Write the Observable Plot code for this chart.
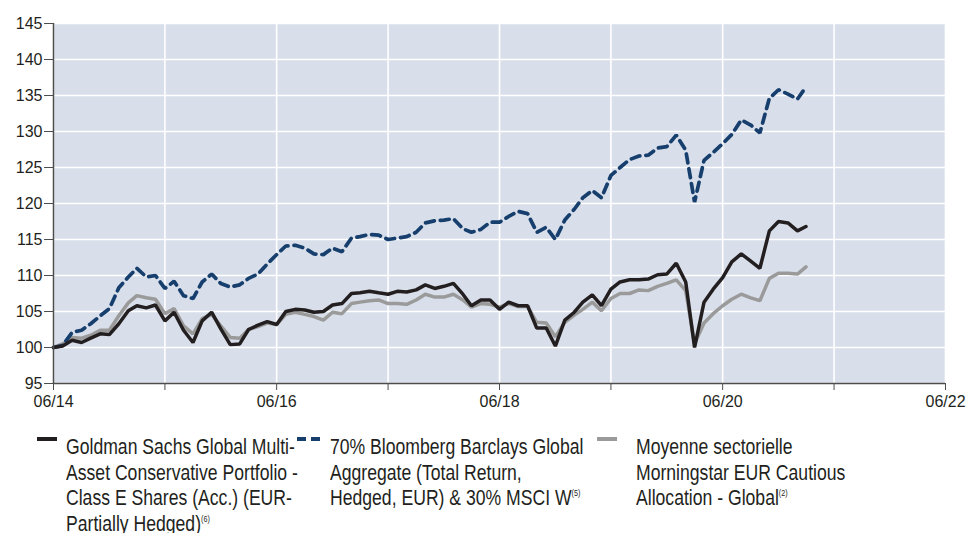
<!DOCTYPE html>
<html>
<head>
<meta charset="utf-8">
<script src="https://cdn.jsdelivr.net/npm/d3@7"></script>
<script src="https://cdn.jsdelivr.net/npm/@observablehq/plot@0.6"></script>
<style>
  html, body { margin: 0; padding: 0; background: #ffffff; width: 967px; height: 533px; overflow: hidden; }
  #wrap { position: relative; width: 967px; height: 533px; font-family: 'Liberation Sans', Arial, sans-serif; color: #231f20; }
  .legend { position: absolute; top: 434px; left: 0; width: 967px; }
  .item { position: absolute; top: 0; font-size: 22px; line-height: 25.5px; white-space: nowrap;
          transform: scaleX(0.8); transform-origin: 0 0; }
  .sw { position: absolute; top: 3px; height: 4px; }
  sup { font-size: 9px; vertical-align: 9px; line-height: 0; }
</style>
</head>
<body>
<div id="wrap">
  <div id="chart"></div>
  <div class="legend" id="legend"></div>
</div>
<script>
// ---- Data (monthly, 06/2014 .. 03/2021) ----
const firstMonth = new Date(Date.UTC(2014, 5, 1));
const endMonthExclusive = new Date(Date.UTC(2021, 3, 1));

const fundValues = [
  100.0, 100.2, 101.0, 100.7, 101.3, 101.9, 101.8, 103.3, 105.1, 105.8,
  105.5, 105.9, 103.7, 104.9, 102.4, 100.7, 103.7, 104.9, 102.6, 100.4,
  100.5, 102.5, 103.1, 103.6, 103.2, 105.0, 105.3, 105.2, 104.9, 105.0,
  105.9, 106.1, 107.5, 107.6, 107.8, 107.6, 107.4, 107.8, 107.7, 108.0,
  108.7, 108.2, 108.5, 108.9, 107.4, 105.8, 106.6, 106.6, 105.3, 106.3,
  105.8, 105.8, 102.7, 102.7, 100.2, 103.8, 104.9, 106.3, 107.3, 105.8,
  108.1, 109.1, 109.4, 109.4, 109.5, 110.1, 110.2, 111.7, 109.1, 100.0,
  106.3, 108.1, 109.7, 111.9, 113.0, 112.0, 111.0, 116.2, 117.5, 117.3,
  116.2, 116.8
];

const benchmarkValues = [
  100.0, 100.3, 102.1, 102.4, 103.3, 104.4, 105.4, 108.3, 109.8, 111.0,
  109.8, 110.0, 108.2, 109.2, 107.2, 106.8, 109.1, 110.2, 108.9, 108.4,
  108.7, 109.6, 110.2, 111.6, 112.9, 114.1, 114.2, 113.8, 113.0, 112.9,
  113.8, 113.3, 115.2, 115.4, 115.7, 115.6, 115.0, 115.2, 115.4, 116.0,
  117.3, 117.6, 117.7, 117.9, 116.5, 116.0, 116.4, 117.4, 117.4, 118.2,
  118.9, 118.6, 116.0, 116.7, 115.0, 117.7, 119.2, 120.8, 121.8, 120.8,
  123.9, 125.0, 126.1, 126.6, 126.7, 127.7, 127.9, 129.5, 127.4, 120.2,
  126.0, 127.1, 128.3, 129.6, 131.6, 130.9, 129.8, 134.6, 135.8, 135.2,
  134.5, 136.2
];

const sectorValues = [
  100.0, 100.5, 101.4, 101.3, 101.7, 102.4, 102.4, 104.4, 106.2, 107.2,
  106.9, 106.7, 104.7, 105.4, 103.0, 101.9, 104.0, 104.6, 103.0, 101.4,
  101.3, 102.5, 102.9, 103.4, 103.2, 104.6, 104.9, 104.6, 104.3, 103.8,
  104.9, 104.7, 106.1, 106.3, 106.5, 106.6, 106.1, 106.1, 106.0, 106.6,
  107.4, 107.0, 107.0, 107.4, 106.6, 105.6, 106.1, 106.0, 105.6, 106.1,
  105.7, 105.7, 103.5, 103.4, 101.5, 103.5, 104.5, 105.3, 106.3, 105.1,
  106.8, 107.5, 107.5, 108.0, 107.9, 108.5, 108.9, 109.4, 107.9, 100.5,
  103.4, 104.7, 105.8, 106.7, 107.4, 106.9, 106.5, 109.6, 110.3, 110.3,
  110.2, 111.2
];

const yTicks = [95, 100, 105, 110, 115, 120, 125, 130, 135, 140, 145];
const xTickDates = ["2014-06-01", "2015-06-01", "2016-06-01", "2017-06-01", "2018-06-01",
                    "2019-06-01", "2020-06-01", "2021-06-01", "2022-06-01"];
const xTickLabels = ["06/14", "", "06/16", "", "06/18", "", "06/20", "", "06/22"];

const seriesNames = [
  "Goldman Sachs Global Multi-Asset Conservative Portfolio - Class E Shares (Acc.) (EUR-Partially Hedged)",
  "70% Bloomberg Barclays Global Aggregate (Total Return, Hedged, EUR) & 30% MSCI W",
  "Moyenne sectorielle Morningstar EUR Cautious Allocation - Global"
];

// ---- Build tables ----
const months = d3.utcMonth.range(firstMonth, endMonthExclusive);
const toRows = (vals) => vals.map((v, i) => ({ date: months[i], value: v }));
const fundRows = toRows(fundValues);
const benchRows = toRows(benchmarkValues);
const sectorRows = toRows(sectorValues);

const xTicks = xTickDates.map(s => new Date(s + "T00:00:00Z"));
const labelMap = new Map(xTicks.map((d, i) => [d.getTime(), xTickLabels[i]]));

const FONT = "'Liberation Sans', Arial, sans-serif";
const AXIS = "#4d4d4d";

const chart = Plot.plot({
  width: 967,
  height: 425,
  marginLeft: 53,
  marginRight: 22,
  marginTop: 23,
  marginBottom: 42,
  style: { fontFamily: FONT, fontSize: "16px", color: "#231f20", background: "#ffffff", overflow: "visible" },
  x: { type: "utc", domain: [xTicks[0], xTicks[xTicks.length - 1]] },
  y: { domain: [95, 145] },
  marks: [
    Plot.frame({ fill: "#d9dfea", stroke: "none" }),
    Plot.gridY(yTicks, { stroke: "#ffffff", strokeOpacity: 1, strokeWidth: 1.6 }),
    Plot.gridX(xTicks, { stroke: "#ffffff", strokeOpacity: 1, strokeWidth: 1.6 }),
    Plot.line(sectorRows, { x: "date", y: "value", stroke: "#9a9a9a", strokeWidth: 3.5, strokeLinejoin: "miter" }),
    Plot.line(benchRows, { x: "date", y: "value", stroke: "#173f6e", strokeWidth: 3.7, strokeDasharray: "9,6", strokeLinejoin: "miter" }),
    Plot.line(fundRows, { x: "date", y: "value", stroke: "#231f20", strokeWidth: 3.5, strokeLinejoin: "miter" }),
    Plot.ruleX([xTicks[0]], { stroke: AXIS, strokeWidth: 1.5 }),
    Plot.ruleY([95], { stroke: AXIS, strokeWidth: 1.5 }),
    Plot.axisY(yTicks, { tickSize: 9, tickPadding: 2, stroke: AXIS, fill: "#231f20", fontSize: 16, label: null }),
    Plot.axisX(xTicks, { tickSize: 7, tickPadding: 5, stroke: AXIS, fill: "#231f20", fontSize: 16, label: null,
      tickFormat: d => labelMap.get(d.getTime()) ?? "" })
  ]
});
document.getElementById("chart").appendChild(chart);

// ---- Legend ----
const legendItems = [
  { swLeft: 37, textLeft: 66, color: "#231f20", dashed: false,
    lines: ["Goldman Sachs Global Multi-", "Asset Conservative Portfolio -", "Class E Shares (Acc.) (EUR-", "Partially Hedged)"], note: "(6)" },
  { swLeft: 297, textLeft: 330, color: "#173f6e", dashed: true,
    lines: ["70% Bloomberg Barclays Global", "Aggregate (Total Return,", "Hedged, EUR) & 30% MSCI W"], note: "(5)" },
  { swLeft: 597, textLeft: 636, color: "#9a9a9a", dashed: false,
    lines: ["Moyenne sectorielle", "Morningstar EUR Cautious", "Allocation - Global"], note: "(2)" }
];
const legend = document.getElementById("legend");
legendItems.forEach((it, k) => {
  if (it.dashed) {
    [0, 14].forEach(off => {
      const s = document.createElement("div");
      s.className = "sw";
      s.style.left = (it.swLeft + off) + "px";
      s.style.width = "9px";
      s.style.background = it.color;
      legend.appendChild(s);
    });
  } else {
    const s = document.createElement("div");
    s.className = "sw";
    s.style.left = it.swLeft + "px";
    s.style.width = "20px";
    s.style.background = it.color;
    legend.appendChild(s);
  }
  const t = document.createElement("div");
  t.className = "item";
  t.style.left = it.textLeft + "px";
  t.title = seriesNames[k];
  t.innerHTML = it.lines.map((l, i) => i === it.lines.length - 1 ? l + "<sup>" + it.note + "</sup>" : l).join("<br>");
  legend.appendChild(t);
});
</script>
</body>
</html>
